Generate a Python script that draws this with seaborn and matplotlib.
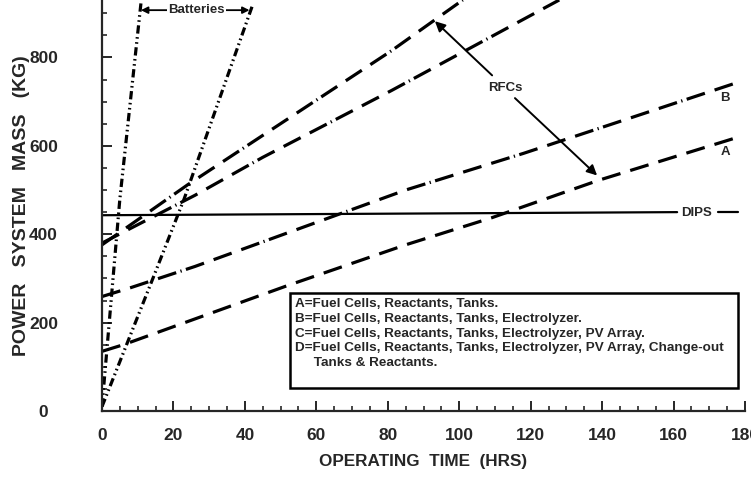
import seaborn as sns
import matplotlib.pyplot as plt
from matplotlib.patches import Rectangle
from matplotlib.ticker import MultipleLocator

# values (hours, kg)
hours_a = [0, 6, 52, 85, 109, 139, 177]
mass_a = [135, 150, 284, 376, 437, 522, 617]

hours_b = [0, 8, 26, 85, 118, 177]
mass_b = [259, 279, 327, 500, 583, 741]

hours_c = [0, 26, 45, 81, 128]
mass_c = [380, 488, 574, 725, 930]

hours_d = [0, 24, 43, 81, 101]
mass_d = [376, 512, 613, 815, 930]

hours_bat1 = [0, 5, 11]
mass_bat1 = [10, 480, 930]

hours_bat2 = [0, 14, 23, 42]
mass_bat2 = [10, 295, 480, 915]

hours_dips = [0, 161]
mass_dips = [443, 450]
hours_dips_tail = [172.5, 178]
mass_dips_tail = [450, 450]

legend_lines = [
    "A=Fuel Cells, Reactants, Tanks.",
    "B=Fuel Cells, Reactants, Tanks, Electrolyzer.",
    "C=Fuel Cells, Reactants, Tanks, Electrolyzer, PV Array.",
    "D=Fuel Cells, Reactants, Tanks, Electrolyzer, PV Array, Change-out",
    "     Tanks & Reactants.",
]

sns.set_style("ticks")
plt.rcParams["font.family"] = ["Liberation Sans", "DejaVu Sans"]
plt.rcParams["font.weight"] = "bold"

fig = plt.figure(figsize=(7.51, 4.83), dpi=100)
ax = fig.add_axes([102 / 751, 72 / 483, 643 / 751, 411 / 483])

dash_a = (0, (6, 3.2))
dash_rfc = (0, (6, 3.2, 6, 3.2, 6, 1.4, 0.4, 1.4))
dash_bat = (0, (2.6, 1.1, 0.5, 1.1, 0.5, 1.1))

sns.lineplot(x=hours_a, y=mass_a, ax=ax, color="black", lw=2.3, linestyle=dash_a)
sns.lineplot(x=hours_b, y=mass_b, ax=ax, color="black", lw=2.3, linestyle=dash_rfc)
sns.lineplot(x=hours_c, y=mass_c, ax=ax, color="black", lw=2.3, linestyle=dash_rfc)
sns.lineplot(x=hours_d, y=mass_d, ax=ax, color="black", lw=2.3, linestyle=dash_rfc)
sns.lineplot(x=hours_bat1, y=mass_bat1, ax=ax, color="black", lw=2.3, linestyle=dash_bat)
sns.lineplot(x=hours_bat2, y=mass_bat2, ax=ax, color="black", lw=2.3, linestyle=dash_bat)
sns.lineplot(x=hours_dips, y=mass_dips, ax=ax, color="black", lw=1.6)
sns.lineplot(x=hours_dips_tail, y=mass_dips_tail, ax=ax, color="black", lw=1.6)

ax.set_xlim(0, 180)
ax.set_ylim(0, 930)
sns.despine(ax=ax)
for s in ["left", "bottom"]:
    ax.spines[s].set_linewidth(1.6)

ax.xaxis.set_major_locator(MultipleLocator(20))
ax.xaxis.set_minor_locator(MultipleLocator(5))
ax.yaxis.set_major_locator(MultipleLocator(200))
ax.yaxis.set_minor_locator(MultipleLocator(50))
ax.tick_params(which="major", direction="in", length=7, width=1.4, labelsize=12.5)
ax.tick_params(which="minor", direction="in", length=3.5, width=1.2)
ax.tick_params(axis="x", which="major", pad=12.5)
ax.tick_params(axis="y", which="major", pad=42)
for lab in ax.get_yticklabels():
    lab.set_ha("center")
    lab.set_fontweight("bold")
for lab in ax.get_xticklabels():
    lab.set_fontweight("bold")

ax.set_xlabel("OPERATING  TIME  (HRS)", fontsize=12.3, fontweight="bold")
ax.set_ylabel("POWER   SYSTEM   MASS   (KG)", fontsize=14, fontweight="bold")
ax.xaxis.set_label_coords(0.5, -0.105)
ax.yaxis.set_label_coords(-0.112, 0.5)

# batteries bracket
ax.annotate("", xy=(10.9, 907), xytext=(41.3, 907),
            arrowprops=dict(arrowstyle="<|-|>", color="black", lw=1.3,
                            mutation_scale=10, shrinkA=0, shrinkB=0))
ax.text(26.5, 907, "Batteries", ha="center", va="center", fontsize=9.5,
        fontweight="bold", bbox=dict(facecolor="white", edgecolor="none", pad=1))

# RFCs arrows
ax.annotate("RFCs", xy=(93.2, 882), xytext=(112.8, 732), ha="center", va="center",
            fontsize=9.5, fontweight="bold",
            arrowprops=dict(arrowstyle="-|>", color="black", lw=1.4,
                            mutation_scale=15, shrinkA=3, shrinkB=0))
ax.annotate("", xy=(138.6, 533), xytext=(115.6, 708),
            arrowprops=dict(arrowstyle="-|>", color="black", lw=1.4,
                            mutation_scale=15, shrinkA=0, shrinkB=0))

ax.text(174.4, 708, "B", ha="center", va="center", fontsize=9.5, fontweight="bold")
ax.text(174.4, 585, "A", ha="center", va="center", fontsize=9.5, fontweight="bold")
ax.text(166.3, 449, "DIPS", ha="center", va="center", fontsize=9.5, fontweight="bold")

# description box
ax.add_patch(Rectangle((52.6, 52), 125.5, 216, facecolor="white", edgecolor="black",
                       lw=1.8, zorder=3))
for i, line in enumerate(legend_lines):
    ax.text(54.0, 241 - i * 33, line, ha="left", va="center", fontsize=9.7,
            fontweight="bold", zorder=4)

fig.savefig("out.png", dpi=100)
